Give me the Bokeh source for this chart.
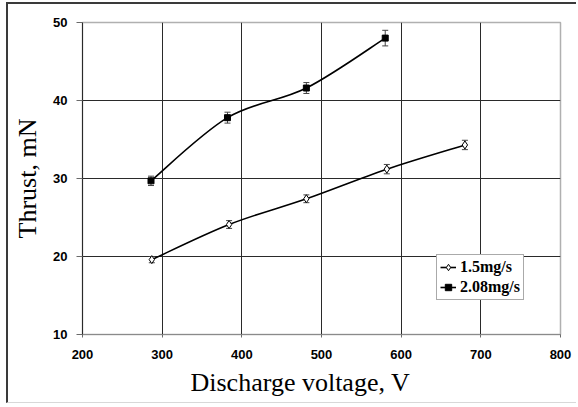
from bokeh.plotting import figure
from bokeh.models import (Range1d, FixedTicker, Legend, LegendItem, Whisker,
                          ColumnDataSource, Title)
from bokeh.embed import file_html
from bokeh.resources import INLINE

# Thrust vs discharge voltage for two anode mass flow rates
voltage_a = [287, 384, 481, 582, 680]
thrust_a = [19.6, 24.1, 27.4, 31.2, 34.3]
err_a = [0.4, 0.5, 0.5, 0.6, 0.6]

voltage_b = [286, 382, 481, 580]
thrust_b = [29.7, 37.8, 41.6, 48.0]
err_b = [0.6, 0.7, 0.7, 1.0]

label_a = "1.5mg/s"
label_b = "2.08mg/s"

x_ticks = [200, 300, 400, 500, 600, 700, 800]
y_ticks = [10, 20, 30, 40, 50]


def smooth_segments(xs, ys):
    """Catmull-Rom control points for a smoothed curve through the points."""
    n = len(xs)
    px = [xs[0]] + list(xs) + [xs[-1]]
    py = [ys[0]] + list(ys) + [ys[-1]]
    seg = dict(x0=[], y0=[], x1=[], y1=[], cx0=[], cy0=[], cx1=[], cy1=[])
    for i in range(1, n):
        seg["x0"].append(px[i]); seg["y0"].append(py[i])
        seg["x1"].append(px[i + 1]); seg["y1"].append(py[i + 1])
        seg["cx0"].append(px[i] + (px[i + 1] - px[i - 1]) / 6)
        seg["cy0"].append(py[i] + (py[i + 1] - py[i - 1]) / 6)
        seg["cx1"].append(px[i + 1] - (px[i + 2] - px[i]) / 6)
        seg["cy1"].append(py[i + 1] - (py[i + 2] - py[i]) / 6)
    return ColumnDataSource(seg)


p = figure(width=570, height=401, output_backend="svg", toolbar_location=None,
           x_range=Range1d(200, 800), y_range=Range1d(10, 50),
           min_border_left=74, min_border_right=18, min_border_top=18,
           min_border_bottom=71)
p.styles = {"margin-left": "6px", "margin-top": "2px",
            "border-left": "2px solid #3a3a3a", "border-top": "2px solid #3a3a3a",
            "border-bottom": "1px solid #d8d8d8"}

p.background_fill_color = "white"
p.border_fill_color = "white"
p.outline_line_color = "#b0b0b0"
p.outline_line_width = 1.5

# grid
p.xgrid.ticker = FixedTicker(ticks=x_ticks[1:-1])
p.ygrid.ticker = FixedTicker(ticks=y_ticks[1:-1])
p.xgrid.grid_line_color = "#2a2a2a"
p.ygrid.grid_line_color = "#2a2a2a"
p.xgrid.grid_line_width = 1
p.ygrid.grid_line_width = 1

# axes
p.xaxis.ticker = FixedTicker(ticks=x_ticks)
p.yaxis.ticker = FixedTicker(ticks=y_ticks)
for ax in (p.xaxis[0], p.yaxis[0]):
    ax.major_label_text_font = "Liberation Sans"
    ax.major_label_text_font_style = "bold"
    ax.major_label_text_font_size = "13px"
    ax.major_label_text_color = "black"
    ax.minor_tick_line_color = None
    ax.major_tick_in = 0
p.xaxis.axis_line_color = "#8a8a8a"
p.xaxis.major_tick_line_color = "#6a6a6a"
p.xaxis.major_tick_out = 3
p.xaxis.major_label_standoff = 12
p.yaxis.axis_line_color = "#2a2a2a"
p.yaxis.major_tick_line_color = "#6a6a6a"
p.yaxis.major_tick_out = 6
p.yaxis.major_label_standoff = 9

p.yaxis.axis_label = "Thrust, mN"
p.yaxis.axis_label_text_font = "Liberation Serif"
p.yaxis.axis_label_text_font_style = "normal"
p.yaxis.axis_label_text_font_size = "26px"
p.yaxis.axis_label_text_color = "black"
p.yaxis.axis_label_standoff = 8

# x-axis title, set slightly left of the frame centre
p.add_layout(Title(text="Discharge voltage, V", align="left", offset=108,
                   text_font="Liberation Serif", text_font_size="26px",
                   text_font_style="normal", text_color="black",
                   standoff=9), "below")

# curves
p.bezier(x0="x0", y0="y0", x1="x1", y1="y1", cx0="cx0", cy0="cy0",
         cx1="cx1", cy1="cy1", source=smooth_segments(voltage_a, thrust_a),
         line_color="black", line_width=1.6)
p.bezier(x0="x0", y0="y0", x1="x1", y1="y1", cx0="cx0", cy0="cy0",
         cx1="cx1", cy1="cy1", source=smooth_segments(voltage_b, thrust_b),
         line_color="black", line_width=1.6)

# error bars
for xs, ys, es in ((voltage_a, thrust_a, err_a), (voltage_b, thrust_b, err_b)):
    src = ColumnDataSource(dict(x=xs, lo=[y - e for y, e in zip(ys, es)],
                                hi=[y + e for y, e in zip(ys, es)]))
    w = Whisker(base="x", lower="lo", upper="hi", source=src,
                line_color="#444444", line_width=1)
    w.upper_head.size = 6
    w.lower_head.size = 6
    w.upper_head.line_color = "#444444"
    w.lower_head.line_color = "#444444"
    p.add_layout(w)

pts_a = p.scatter(voltage_a, thrust_a, marker="diamond", size=8,
                  fill_color="white", line_color="black", line_width=1)
pts_b = p.scatter(voltage_b, thrust_b, marker="square", size=6,
                  fill_color="black", line_color="black")

# legend-only line renderers (no visible data)
nan = float("nan")
leg_line_a = p.line([nan], [nan], line_color="black", line_width=1.6)
leg_line_b = p.line([nan], [nan], line_color="black", line_width=1.6)

legend = Legend(items=[LegendItem(label=label_a, renderers=[leg_line_a, pts_a]),
                       LegendItem(label=label_b, renderers=[leg_line_b, pts_b])],
                location=(354, 34), margin=0, padding=3, spacing=2,
                glyph_width=16, glyph_height=18, label_height=18,
                label_standoff=4,
                label_text_font="Liberation Serif", label_text_font_style="bold",
                label_text_font_size="16px", label_text_color="black",
                border_line_color="#555555", border_line_width=1,
                background_fill_color="white", background_fill_alpha=1)
p.add_layout(legend, "center")

open("out.html", "w").write(file_html(p, INLINE))
